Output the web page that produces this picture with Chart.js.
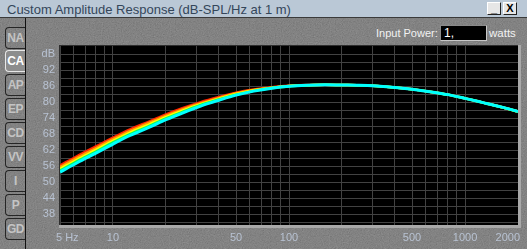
<!DOCTYPE html>
<html>
<head>
<meta charset="utf-8">
<script src="https://cdn.jsdelivr.net/npm/chart.js@4"></script>
<style>
  html, body { margin: 0; padding: 0; }
  body {
    width: 527px; height: 249px; overflow: hidden; position: relative;
    font-family: "Liberation Sans", Arial, sans-serif;
    background-color: #5a5a5a;
    background-image: url("data:image/svg+xml;utf8,<svg xmlns='http://www.w3.org/2000/svg' width='160' height='160'><filter id='n'><feTurbulence type='fractalNoise' baseFrequency='0.85' numOctaves='2' stitchTiles='stitch'/><feColorMatrix values='0.4 0.4 0.4 0 0  0.4 0.4 0.4 0 0  0.4 0.4 0.4 0 0  0 0 0 0 0.35'/></filter><rect width='100%' height='100%' filter='url(%23n)'/></svg>");
  }
  #titlebar {
    position: absolute; left: 0; top: 0; width: 527px; height: 18px;
    background: #bac8d6; border-bottom: 1px solid #3a3a3a; box-sizing: border-box;
  }
  #titlebar span {
    position: absolute; left: 7px; top: 2px; font-size: 13px; color: #34465a;
  }
  .wbtn {
    position: absolute; top: 2px; width: 14px; height: 13px; box-sizing: border-box;
    background: #e6e6e6; border: 1px solid #222; border-top-color: #fff; border-left-color: #fff;
    font: bold 11px "Liberation Sans", Arial, sans-serif; color: #000; text-align: center; line-height: 11px;
  }
  #tabline { position: absolute; left: 25px; top: 18px; width: 1px; height: 231px; background: #111; }
  .tab {
    position: absolute; left: 5px; width: 20px; height: 22px; box-sizing: border-box;
    border: 1px solid #262626; border-right: none; border-radius: 4px 0 0 4px;
    font: bold 12px "Liberation Sans", Arial, sans-serif; color: #c4c4c4;
    text-align: center; line-height: 20px; letter-spacing: -0.5px;
  }
  .tab.sel { background: #8d8d8d; border-color: #e8e8e8; color: #fff; }
  #ip { position: absolute; left: 376px; top: 27px; font-size: 11px; color: #f2f2f2; }
  #ipbox {
    position: absolute; left: 440px; top: 25px; width: 47px; height: 16px; box-sizing: border-box;
    background: #000; border: 1px solid #8a8a8a; border-right-color: #c8c8c8; border-bottom-color: #c8c8c8;
    font-size: 12px; color: #fff; padding-left: 3px; line-height: 14px;
  }
  #watts { position: absolute; left: 489px; top: 27px; font-size: 11.5px; color: #f2f2f2; }
  #chart { position: absolute; left: 0; top: 0; }
</style>
</head>
<body>
<div id="titlebar"><span>Custom Amplitude Response (dB-SPL/Hz at 1 m)</span></div>
<div class="wbtn" style="left:487px">_</div>
<div class="wbtn" style="left:503px">X</div>
<div id="tabline"></div>
<div id="tabs"></div>
<div id="ip">Input Power:</div>
<div id="ipbox">1,</div>
<div id="watts">watts</div>
<canvas id="chart" width="527" height="249"></canvas>
<script>
// frequency points (Hz), third-octave steps
const freqs = [5, 6.3, 8, 10, 12.5, 16, 20, 25, 31.5, 40, 50, 63, 80, 100, 125, 160, 200, 250, 315, 400, 500, 630, 800, 1000, 1250, 1600, 2000];

// SPL curves (dB), one per colour
const splRed    = [56.3, 59.9, 63.4, 66.7, 69.8, 72.7, 75.4, 77.8, 80.0, 81.9, 83.5, 84.7, 85.6, 86.1, 86.4, 86.5, 86.4, 86.3, 86.0, 85.5, 84.8, 83.9, 82.8, 81.4, 79.9, 78.2, 76.5];
const splOrange = [55.7, 59.3, 62.8, 66.1, 69.2, 72.2, 74.9, 77.4, 79.6, 81.6, 83.3, 84.5, 85.4, 86.0, 86.3, 86.5, 86.4, 86.3, 86.0, 85.5, 84.8, 83.9, 82.8, 81.4, 79.9, 78.2, 76.5];
const splYellow = [55.0, 58.6, 62.1, 65.5, 68.6, 71.6, 74.4, 76.9, 79.2, 81.3, 83.0, 84.4, 85.4, 86.0, 86.3, 86.5, 86.4, 86.3, 86.0, 85.5, 84.8, 83.9, 82.8, 81.4, 79.9, 78.2, 76.5];
const splGreen  = [54.4, 58.0, 61.5, 64.9, 68.0, 71.0, 73.9, 76.4, 78.9, 81.0, 82.8, 84.2, 85.3, 85.9, 86.3, 86.5, 86.4, 86.3, 86.0, 85.5, 84.8, 83.9, 82.8, 81.4, 79.9, 78.2, 76.5];
const splCyan   = [53.8, 57.4, 60.9, 64.3, 67.5, 70.5, 73.4, 76.0, 78.5, 80.7, 82.6, 84.1, 85.2, 85.9, 86.3, 86.5, 86.4, 86.3, 86.0, 85.5, 84.8, 83.9, 82.8, 81.4, 79.9, 78.2, 76.5];

// axes
const xGridValues = [5, 6, 7, 8, 9, 10, 20, 30, 40, 50, 60, 70, 80, 90, 100, 200, 300, 400, 500, 600, 700, 800, 900, 1000, 2000];
const xLabelValues = [5, 10, 50, 100, 500, 1000, 2000];
const xLabelTexts = ['5 Hz', '10', '50', '100', '500', '1000', '2000'];
const yMinorValues = [35, 41, 47, 53, 59, 65, 71, 77, 83, 89, 95];
const yLabelValues = [38, 44, 50, 56, 62, 68, 74, 80, 86, 92, 98];
const yLabelTexts = ['38', '44', '50', '56', '62', '68', '74', '80', '86', '92', 'dB'];

const tabNames = ['NA', 'CA', 'AP', 'EP', 'CD', 'VV', 'I', 'P', 'GD'];

// side tabs
const tabsDiv = document.getElementById('tabs');
tabNames.forEach((name, i) => {
    const d = document.createElement('div');
    d.className = 'tab' + (name === 'CA' ? ' sel' : '');
    d.style.top = (26.5 + i * 23.9) + 'px';
    d.textContent = name;
    tabsDiv.appendChild(d);
});

const labelColor = '#b8c2d2';
const gridColor = '#424242';

// black plot background + sunken frame + x labels
const plotDecor = {
    id: 'plotDecor',
    beforeDraw(chart) {
        const { ctx, chartArea: a } = chart;
        ctx.save();
        ctx.fillStyle = '#000';
        ctx.fillRect(a.left, a.top, a.right - a.left, a.bottom - a.top);
        ctx.restore();
    },
    afterDraw(chart) {
        const { ctx, chartArea: a } = chart;
        const xs = chart.scales.x;
        ctx.save();
        ctx.fillStyle = '#2e2e2e';
        ctx.fillRect(a.left - 1, a.top - 1, a.right - a.left + 1, 1);
        ctx.fillRect(a.left - 1, a.top - 1, 1, a.bottom - a.top + 1);
        ctx.fillStyle = '#a9a9a9';
        ctx.fillRect(a.left - 1, a.bottom, a.right - a.left + 4, 3);
        ctx.fillRect(a.right, a.top - 1, 3, a.bottom - a.top + 4);

        ctx.font = '11px "Liberation Sans", Arial, sans-serif';
        ctx.fillStyle = labelColor;
        ctx.textBaseline = 'middle';
        xLabelValues.forEach((v, i) => {
            let px = xs.getPixelForValue(v);
            if (i === 0) { ctx.textAlign = 'left'; px -= 4; }
            else if (i === xLabelValues.length - 1) { ctx.textAlign = 'right'; px += 2; }
            else { ctx.textAlign = 'center'; }
            ctx.fillText(xLabelTexts[i], px, 237.5);
        });
        ctx.restore();
    }
};

function series(data, color, width) {
    return {
        data: freqs.map((f, i) => ({ x: f, y: data[i] })),
        borderColor: color,
        borderWidth: width,
        pointRadius: 0,
        fill: false,
        cubicInterpolationMode: 'monotone'
    };
}

new Chart(document.getElementById('chart'), {
    type: 'line',
    data: {
        // first dataset is drawn on top
        datasets: [
            series(splCyan, '#00ffff', 3),
            series(splGreen, '#00ff66', 2.5),
            series(splYellow, '#ffff00', 2.5),
            series(splOrange, '#ff9a00', 2.5),
            series(splRed, '#ff2200', 2.5)
        ]
    },
    plugins: [plotDecor],
    options: {
        responsive: false,
        animation: false,
        devicePixelRatio: 1,
        layout: { padding: { top: 46, right: 9, left: 0, bottom: 0 } },
        plugins: { legend: { display: false }, tooltip: { enabled: false } },
        scales: {
            x: {
                type: 'logarithmic',
                min: 5,
                max: 2000,
                afterBuildTicks: s => { s.ticks = xGridValues.map(v => ({ value: v })); },
                afterFit: s => { s.height = 24; },
                grid: { color: gridColor, drawTicks: false },
                border: { display: false },
                ticks: { display: false }
            },
            y: {
                min: 34,
                max: 101,
                afterBuildTicks: s => {
                    s.ticks = yMinorValues.concat(yLabelValues).sort((a, b) => a - b).map(v => ({ value: v }));
                },
                afterFit: s => { s.width = 60; },
                grid: { color: gridColor, drawTicks: false },
                border: { display: false },
                ticks: {
                    autoSkip: false,
                    padding: 5,
                    color: labelColor,
                    font: { family: '"Liberation Sans", Arial, sans-serif', size: 11 },
                    callback: v => {
                        const i = yLabelValues.indexOf(v);
                        return i >= 0 ? yLabelTexts[i] : '';
                    }
                }
            }
        }
    }
});
</script>
</body>
</html>
